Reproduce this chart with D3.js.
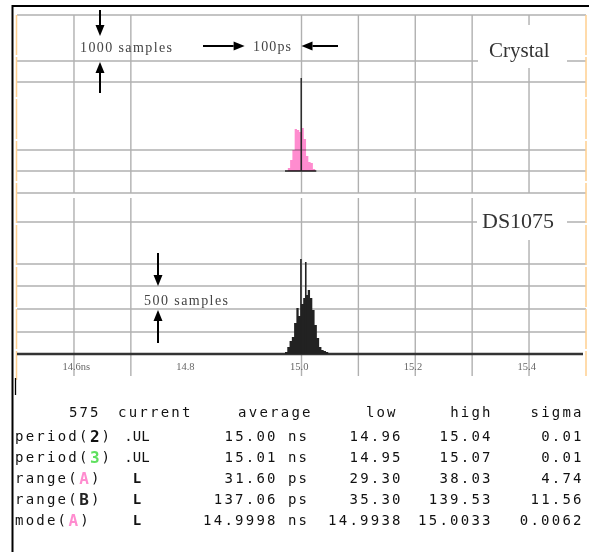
<!DOCTYPE html>
<html>
<head>
<meta charset="utf-8">
<script src="https://cdn.jsdelivr.net/npm/d3@7"></script>
<style>
body{margin:0;background:#fff}
svg{display:block}
</style>
</head>
<body>
<div id="app"></div>
<script>
const W = 589, H = 552;

// time axis, ns
const tickTimes = [14.6, 14.8, 15.0, 15.2, 15.4];
const tickInt = ["14", "14", "15", "15", "15"];
const tickFrac = [".6ns", ".8", ".0", ".2", ".4"];
const gridTimes = [14.6, 14.7, 15.0, 15.1, 15.2, 15.3, 15.4];

// histograms, 4ps bins (samples per bin)
const binWidth = 0.004;
const crystalStart = 14.976;
const crystalCounts = [130, 490, 930, 1860, 1810, 1730, 1900, 1420, 660, 400, 350, 90];
const crystalSpikes = [{t: 14.9995, n: 4110}];
const dsStart = 14.971;
const dsCounts = [44, 155, 290, 375, 685, 1020, 840, 1105, 1240, 1305, 1415, 1240, 975, 640, 355, 155, 90, 65, 44];
const dsSpikes = [{t: 14.9990, n: 2100}, {t: 15.0075, n: 2035}];

// measurement table
const statHead = ["575", "current", "average", "low", "high", "sigma"];
const statName = ["period(", "period(", "range(", "range(", "mode("];
const statMark = ["2", "3", "A", "B", "A"];
const statMarkColor = ["#111", "#5fe05f", "#ff8ccf", "#222", "#ff8ccf"];
const statCur = [".UL", ".UL", "L", "L", "L"];
const statAvg = ["15.00", "15.01", "31.60", "137.06", "14.9998"];
const statUnit = ["ns", "ns", "ps", "ps", "ns"];
const statLow = ["14.96", "14.95", "29.30", "35.30", "14.9938"];
const statHigh = ["15.04", "15.07", "38.03", "139.53", "15.0033"];
const statSigma = ["0.01", "0.01", "4.74", "11.56", "0.0062"];

const svg = d3.select("#app").append("svg").attr("width", W).attr("height", H);

const x = d3.scaleLinear().domain([14.5, 15.5]).range([17.1, 585.9]);
const yTop = d3.scaleLinear().domain([0, 1000]).range([171, 148.4]);
const yBot = d3.scaleLinear().domain([0, 500]).range([354, 331.4]);

const gridCol = "#b0b0b0";
const g = svg.append("g");

// grid
const topRows = [15, 61, 82, 150, 171, 193];
const botRows = [222, 264, 286, 309, 332];
g.selectAll("line.vt").data(gridTimes).join("line")
	.attr("x1", d => x(d)).attr("x2", d => x(d)).attr("y1", 15).attr("y2", 193)
	.attr("stroke", gridCol).attr("stroke-width", 1.4);
g.selectAll("line.vb").data(gridTimes).join("line")
	.attr("x1", d => x(d)).attr("x2", d => x(d)).attr("y1", 198).attr("y2", 376)
	.attr("stroke", gridCol).attr("stroke-width", 1.4);
g.selectAll("line.ht").data(topRows.concat(botRows)).join("line")
	.attr("x1", 17).attr("x2", 586).attr("y1", d => d).attr("y2", d => d)
	.attr("stroke", gridCol).attr("stroke-width", 1.4);

// orange edge lines
[[16.5, 15, 380], [586, 15, 376]].forEach(function(e){
	g.append("line").attr("x1", e[0]).attr("x2", e[0]).attr("y1", e[1]).attr("y2", e[2])
		.attr("stroke", "#ffcf90").attr("stroke-width", 1.5).attr("stroke-dasharray", "40,2");
});

// label boxes
function labelBox(x0, y0, w, h, txt, bx, by, size){
	svg.append("rect").attr("x", x0).attr("y", y0).attr("width", w).attr("height", h).attr("fill", "#fff");
	svg.append("text").attr("x", bx).attr("y", by).text(txt)
		.attr("font-family", "'Liberation Serif', serif").attr("font-size", size).attr("fill", "#333");
}
labelBox(478, 25, 89, 43, "Crystal", 489, 57, 21);
labelBox(477, 198, 90, 42, "DS1075", 482, 228, 22);

// step histogram as one area
function histArea(start, counts, y){
	let pts = counts.map((c, i) => ({t: start + i * binWidth, n: c}));
	pts.push({t: start + counts.length * binWidth, n: 0});
	return d3.area().curve(d3.curveStepAfter)
		.x(d => x(d.t)).y0(y(0)).y1(d => y(d.n))(pts);
}

// crystal histogram
svg.append("line")
	.attr("x1", x(crystalStart - 0.005)).attr("x2", x(crystalStart + binWidth * crystalCounts.length + 0.002))
	.attr("y1", yTop(0)).attr("y2", yTop(0)).attr("stroke", "#222").attr("stroke-width", 1.5);
svg.append("path").style("mix-blend-mode", "multiply")
	.attr("d", histArea(crystalStart, crystalCounts, yTop))
	.attr("fill", "#ff8ccf");
svg.selectAll("line.cs").data(crystalSpikes).join("line")
	.attr("x1", d => x(d.t)).attr("x2", d => x(d.t)).attr("y1", yTop(0)).attr("y2", d => yTop(d.n))
	.attr("stroke", "#222").attr("stroke-width", 1.4);

// DS1075 histogram
svg.append("line").attr("x1", 17).attr("x2", 583).attr("y1", yBot(0)).attr("y2", yBot(0))
	.attr("stroke", "#333").attr("stroke-width", 2.5);
svg.append("path")
	.attr("d", histArea(dsStart, dsCounts, yBot))
	.attr("fill", "#222");
svg.selectAll("line.ds").data(dsSpikes).join("line")
	.attr("x1", d => x(d.t)).attr("x2", d => x(d.t)).attr("y1", yBot(0)).attr("y2", d => yBot(d.n))
	.attr("stroke", "#222").attr("stroke-width", 1.6);

// axis labels, decimal point on the grid line
const ax = svg.append("g").attr("font-family", "'Liberation Serif', serif").attr("font-size", 10.5).attr("fill", "#666");
ax.selectAll("text.i").data(tickTimes).join("text")
	.attr("x", d => x(d) - 1).attr("y", 370).attr("text-anchor", "end").text((d, i) => tickInt[i]);
ax.selectAll("text.f").data(tickTimes).join("text")
	.attr("x", d => x(d) - 1).attr("y", 370).text((d, i) => tickFrac[i]);

// arrows
function arrow(x1, y1, x2, y2){
	let a = Math.atan2(y2 - y1, x2 - x1), L = 11, w = 4.5;
	let bx = x2 - L * Math.cos(a), by = y2 - L * Math.sin(a);
	svg.append("line").attr("x1", x1).attr("y1", y1).attr("x2", bx).attr("y2", by)
		.attr("stroke", "#000").attr("stroke-width", 2);
	svg.append("path")
		.attr("d", "M" + x2 + "," + y2 + "L" + (bx - w * Math.sin(a)) + "," + (by + w * Math.cos(a)) +
			"L" + (bx + w * Math.sin(a)) + "," + (by - w * Math.cos(a)) + "Z")
		.attr("fill", "#000");
}
arrow(100, 10, 100, 36);
arrow(100, 93, 100, 62);
arrow(203, 46, x(14.9), 46);
arrow(338, 46, x(15.0), 46);
arrow(158, 253, 158, 286);
arrow(158, 343, 158, 310);

const ann = svg.append("g").attr("font-family", "'Liberation Serif', serif").attr("font-size", 14).attr("fill", "#444");
ann.append("text").attr("x", 80).attr("y", 52).attr("textLength", 92).text("1000 samples");
ann.append("text").attr("x", 253).attr("y", 51).attr("textLength", 38).text("100ps");
ann.append("text").attr("x", 144).attr("y", 305).attr("textLength", 84).text("500 samples");

// frame
svg.append("line").attr("x1", 12).attr("x2", 589).attr("y1", 6).attr("y2", 6).attr("stroke", "#000").attr("stroke-width", 2);
svg.append("line").attr("x1", 12.5).attr("x2", 12.5).attr("y1", 5).attr("y2", 552).attr("stroke", "#000").attr("stroke-width", 2);
svg.append("line").attr("x1", 15.5).attr("x2", 15.5).attr("y1", 378).attr("y2", 395).attr("stroke", "#000").attr("stroke-width", 1.3);

// measurement table
const cw = 10.7;
const tb = svg.append("g").attr("font-family", "'DejaVu Sans Mono', monospace").attr("font-size", 14).attr("fill", "#111");
function cell(txt, px, py, anchor){
	let n = txt.length, left = anchor == "end" ? px - n * cw : anchor == "middle" ? px - n * cw / 2 : px;
	tb.append("text").attr("x", left).attr("y", py).attr("textLength", n * cw - 2.5)
		.attr("lengthAdjust", "spacing").text(txt);
}
const rowY = [417, 441, 462, 483, 504, 525];
cell(statHead[0], 101, rowY[0], "end");
cell(statHead[1], 118, rowY[0], "start");
cell(statHead[2], 313, rowY[0], "end");
cell(statHead[3], 398, rowY[0], "end");
cell(statHead[4], 493, rowY[0], "end");
cell(statHead[5], 584, rowY[0], "end");
statName.forEach(function(nm, i){
	let py = rowY[i + 1];
	cell(nm, 15, py, "start");
	let mx = 15 + nm.length * cw;
	tb.append("text").attr("x", mx).attr("y", py + 1).text(statMark[i])
		.attr("font-size", 16).attr("font-weight", "bold").attr("fill", statMarkColor[i]);
	cell(")", mx + cw + 1, py, "start");
	tb.append("text").attr("x", 137).attr("y", py).attr("text-anchor", "middle")
		.attr("font-weight", statCur[i] == "L" ? "bold" : "normal").text(statCur[i]);
	cell(statAvg[i], 278, py, "end");
	cell(statUnit[i], 288, py, "start");
	cell(statLow[i], 403, py, "end");
	cell(statHigh[i], 493, py, "end");
	cell(statSigma[i], 584, py, "end");
});
</script>
</body>
</html>
